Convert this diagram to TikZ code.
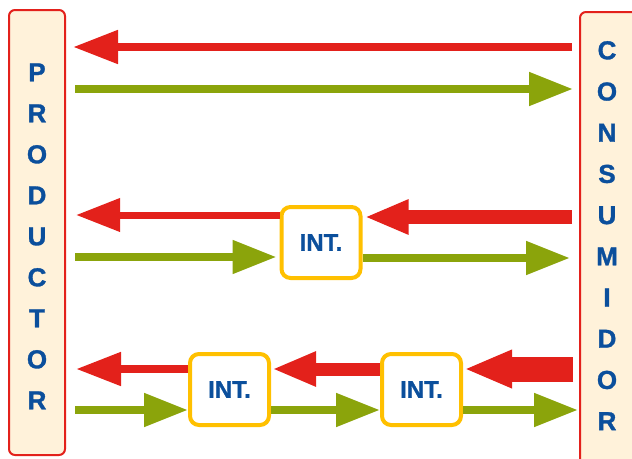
\documentclass[tikz,border=0pt]{standalone}
\usepackage{fontspec}
\setmainfont{Liberation Sans}
\newfontfamily\labelfont{Liberation Sans}[UprightFont={* Bold},FakeBold=1.2]
\usepackage{tikz}
\usetikzlibrary{arrows.meta, positioning}
\definecolor{arrred}{HTML}{E3211B}
\definecolor{arrgreen}{HTML}{8BA40B}
\definecolor{textblue}{HTML}{0B4F9C}
\definecolor{intorange}{HTML}{FFC000}
\definecolor{sidebg}{HTML}{FFF2DA}
\tikzstyle{side}=[rectangle,draw=arrred,fill=sidebg,line width=2pt,rounded corners=6pt]
\tikzstyle{letter}=[text=textblue,font=\fontsize{26}{26}\selectfont\labelfont,text height=18.6pt,text depth=0pt,inner sep=0pt]
\tikzstyle{intbox}=[rectangle,draw=intorange,fill=white,line width=4pt,rounded corners=9pt,minimum width=79pt,minimum height=71pt,inner sep=0pt,text=textblue,font=\fontsize{24}{24}\selectfont\labelfont]
\tikzstyle{redarr}=[-{Triangle[length=44pt,width=32pt]},color=arrred,line width=8pt]
\tikzstyle{greenarr}=[-{Triangle[length=44pt,width=32pt]},color=arrgreen,line width=8pt]

\begin{document}
\begin{tikzpicture}[x=1pt,y=-1pt]
  \clip (0,0) rectangle (632,458);
  \node[side,minimum width=56pt,minimum height=445pt] (prod) at (37,232.5) {};
  \node[side,minimum width=62pt,minimum height=458pt] (cons) at (611,241) {};
  \foreach \l [count=\i] in {P,R,O,D,U,C,T,O,R} {
    \node[letter] (prod\i) at (37,{72+41*(\i-1)}) {\l};
  }
  \foreach \l [count=\i] in {C,O,N,S,U,M,I,D,O,R} {
    \node[letter] (cons\i) at (607,{50+41.2*(\i-1)}) {\l};
  }
  \node[intbox] (int1) at (321,242.5) {INT.};
  \node[intbox] (int2) at (229.5,389.5) {INT.};
  \node[intbox] (int3) at (421.5,389.5) {INT.};
  % direct link
  \draw[redarr,-{Triangle[length=45pt,width=32pt]},shorten <=7pt,shorten >=7pt] (cons.west |- 0,47) -- (prod.east |- 0,47);
  \draw[greenarr,shorten <=9pt,shorten >=6pt] (prod.east |- 0,89) -- (cons.west |- 0,89);
  % one intermediary
  \draw[redarr,line width=7pt,shorten >=10pt] (int1.west |- 0,215) -- (prod.east |- 0,215);
  \draw[redarr,line width=14pt,shorten <=7pt,shorten >=2pt] (cons.west |- 0,217) -- (int1.east |- 0,217);
  \draw[greenarr,shorten <=9pt,shorten >=3pt] (prod.east |- 0,257) -- (int1.west |- 0,257);
  \draw[greenarr,shorten >=9pt] (int1.east |- 0,258) -- (cons.west |- 0,258);
  % two intermediaries
  \draw[redarr,-{Triangle[length=45pt,width=32pt]},shorten >=10pt] (int2.west |- 0,369) -- (prod.east |- 0,369);
  \draw[redarr,line width=13pt,shorten >=1pt] (int3.west |- 0,369) -- (int2.east |- 0,369);
  \draw[redarr,line width=25pt,-{Triangle[length=48pt,width=35pt]},shorten <=6pt,shorten >=1pt] (cons.west |- 0,369) -- (int3.east |- 0,369);
  \draw[greenarr,shorten <=9pt] (prod.east |- 0,410) -- (int2.west |- 0,410);
  \draw[greenarr] (int2.east |- 0,410) -- (int3.west |- 0,410);
  \draw[greenarr,shorten >=1pt] (int3.east |- 0,410) -- (cons.west |- 0,410);
\end{tikzpicture}
\end{document}
